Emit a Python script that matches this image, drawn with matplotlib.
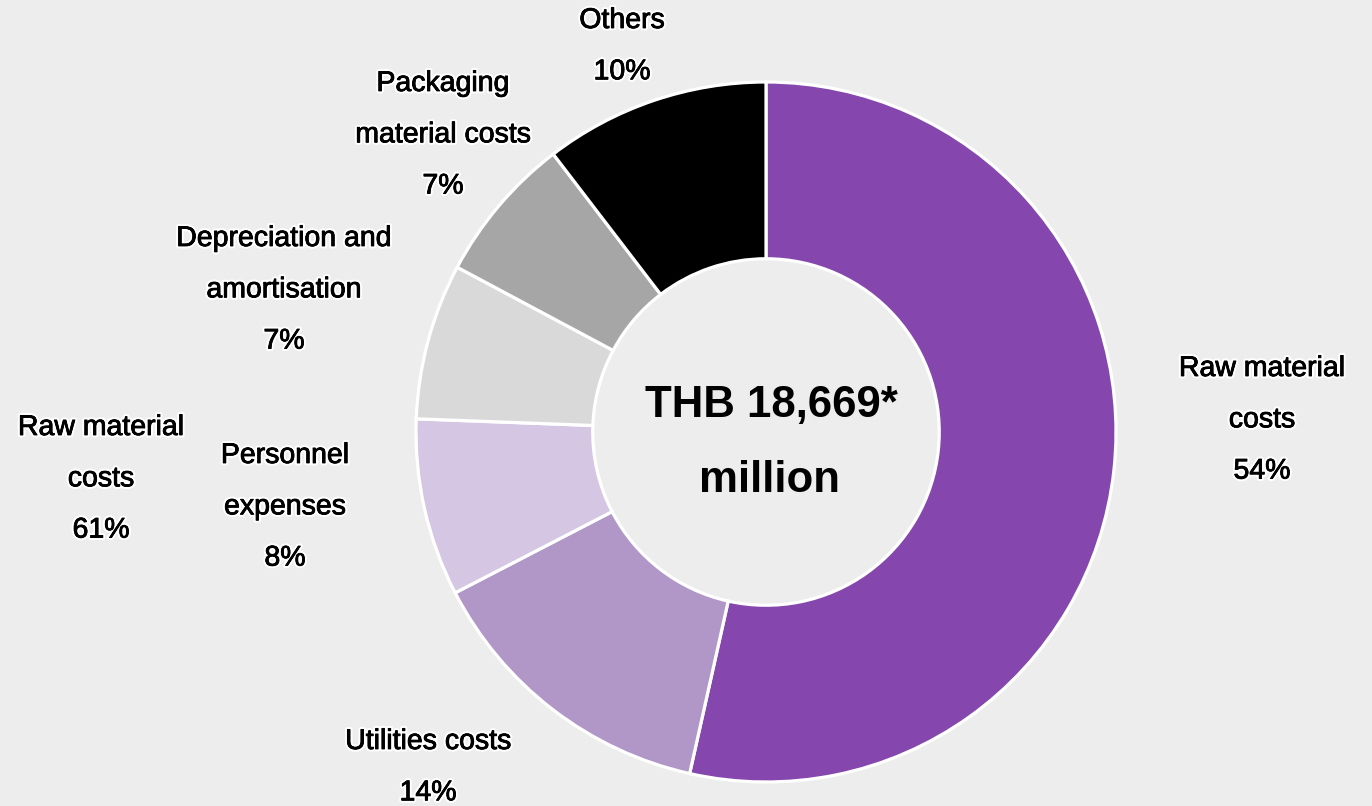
import matplotlib.pyplot as plt
import matplotlib.patheffects as pe

plt.rcParams['font.family'] = ['Liberation Sans', 'DejaVu Sans']

# cost breakdown, clockwise from 12 o'clock
categories = ['Raw material\ncosts', 'Utilities costs', 'Personnel\nexpenses',
              'Depreciation and\namortisation', 'Packaging\nmaterial costs', 'Others']
shares = [53.5, 13.9, 8.2, 7.2, 6.8, 10.4]   # slice sizes as drawn
pct_labels = ['54%', '14%', '8%', '7%', '7%', '10%']
colors = ['#8547AD', '#B197C7', '#D5C7E3', '#D9D9D9', '#A6A6A6', '#000000']

# label anchors in pixel coordinates (x, top line y)
label_pos = [(1262, 369), (428, 742), (285, 456), (284, 239), (443, 84), (622, 21)]

extra_label = 'Raw material\ncosts\n61%'
center_text = ['THB 18,669*', 'million']

W, H = 1372, 806
BG = '#EDEDED'

fig = plt.figure(figsize=(W / 100, H / 100), dpi=100)
fig.set_facecolor(BG)
ax = fig.add_axes([0, 0, 1, 1])
ax.set_facecolor(BG)

cx, cy, r = 766, 432, 350

# y axis is flipped, so counterclock=True draws clockwise on screen
ax.pie(shares, colors=colors, startangle=-90, counterclock=True,
       center=(cx, cy), radius=r, frame=True,
       wedgeprops=dict(width=r * 0.505, edgecolor='white', linewidth=2.3))
ax.set_xlim(0, W)
ax.set_ylim(H, 0)
ax.set_aspect('equal')
ax.axis('off')

halo = [pe.withStroke(linewidth=3.5, foreground='white'),
        pe.Stroke(linewidth=0.6, foreground='black'), pe.Normal()]
fs = 20.5
line_h = 51.3


def put_label(x, y0, text):
    for i, line in enumerate(text.split('\n')):
        ax.text(x, y0 + i * line_h, line, ha='center', va='center',
                fontsize=fs, color='black', path_effects=halo)


for cat, p, (x, y) in zip(categories, pct_labels, label_pos):
    put_label(x, y, cat + '\n' + p)

put_label(101, 428, extra_label)

ax.text(771, 405, center_text[0], ha='center', va='center', fontsize=31.5,
        fontweight='bold', color='black')
ax.text(769, 480, center_text[1], ha='center', va='center', fontsize=31.5,
        fontweight='bold', color='black')

fig.savefig('out.png', dpi=100, facecolor=BG)
